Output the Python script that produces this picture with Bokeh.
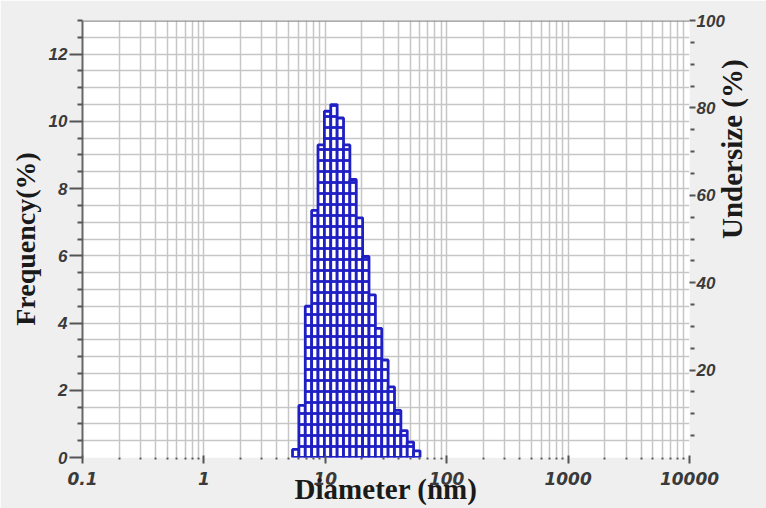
import math
from bokeh.plotting import figure
from bokeh.models import Range1d, LinearAxis, FixedTicker, CustomJSTickFormatter, Span
from bokeh.embed import file_html
from bokeh.resources import INLINE

# ---- data ----
diameter_edges = [5.37, 6.06, 6.84, 7.72, 8.71, 9.83, 11.09, 12.52, 14.13, 15.94,
                  17.99, 20.30, 22.91, 25.85, 29.17, 32.92, 37.15, 41.93, 47.32,
                  53.39, 60.26]
frequency = [0.24, 1.55, 4.5, 7.35, 9.3, 10.3, 10.5, 10.1, 9.3, 8.27,
             7.13, 5.98, 4.84, 3.84, 2.9, 2.1, 1.4, 0.8, 0.46, 0.2]
x_major_ticks = [0.1, 1, 10, 100, 1000, 10000]
freq_major_ticks = [0, 2, 4, 6, 8, 10, 12]
undersize_major_ticks = [20, 40, 60, 80, 100]
x_title = "Diameter (nm)"
y_title = "Frequency(%)"
y2_title = "Undersize (%)"

# ---- styling helpers ----
x_minor_ticks = [m * d for d in [0.1, 1, 10, 100, 1000] for m in range(2, 10)]
freq_minor_ticks = [i * 0.5 for i in range(0, 27) if (i * 0.5) % 2 != 0]
und_minor_ticks = [v for v in range(5, 100, 5) if v % 20 != 0]

GRID = "#c6c6c6"
TICK = "#555555"
LABEL = "#3a3a3a"
BLUE = "#1f1fc4"

p = figure(width=766, height=508, x_axis_type="log",
           x_range=Range1d(0.1, 10000), y_range=Range1d(0, 13),
           output_backend="svg", toolbar_location=None,
           min_border_left=82, min_border_right=76,
           min_border_top=20, min_border_bottom=51,
           background_fill_color="white", border_fill_color="#efefef",
           outline_line_color=None)

p.extra_y_ranges = {"und": Range1d(0, 100)}

# grids
xt = FixedTicker(ticks=x_major_ticks, minor_ticks=x_minor_ticks)
yt = FixedTicker(ticks=freq_major_ticks, minor_ticks=freq_minor_ticks)
p.xaxis.ticker = xt
p.yaxis.ticker = yt
p.xgrid.ticker = xt
p.ygrid.ticker = FixedTicker(ticks=freq_major_ticks[1:], minor_ticks=freq_minor_ticks)
for g in (p.xgrid, p.ygrid):
    g.grid_line_color = GRID
    g.grid_line_width = 1.5
    g.minor_grid_line_color = GRID
    g.minor_grid_line_width = 1.5

# histogram
p.quad(left=diameter_edges[:-1], right=diameter_edges[1:], bottom=0, top=frequency,
       fill_color="white", line_color=BLUE, line_width=2.8,
       hatch_pattern="horizontal_line", hatch_color=BLUE,
       hatch_scale=11, hatch_weight=2.8)

# top border
p.add_layout(Span(location=13, dimension="width", line_color="#909090", line_width=2.5))

fmt = CustomJSTickFormatter(code="return String(Number(tick.toPrecision(6)));")

# x axis
xa = p.xaxis[0]
xa.formatter = fmt
xa.axis_line_color = None
xa.major_tick_in = 2
xa.major_tick_out = 6
xa.major_tick_line_color = TICK
xa.major_tick_line_width = 2
xa.minor_tick_in = 0
xa.minor_tick_out = 2
xa.minor_tick_line_color = TICK
xa.minor_tick_line_width = 2
xa.major_label_standoff = 8
xa.major_label_text_font = "DejaVu Sans"
xa.axis_label = x_title
xa.axis_label_standoff = -15
xa.axis_label_text_font_size = "29px"

# left y axis
ya = p.yaxis[0]
ya.axis_line_color = "#666666"
ya.axis_line_width = 2
ya.major_tick_in = 0
ya.major_tick_out = 13
ya.minor_tick_in = 0
ya.minor_tick_out = 5
ya.major_tick_line_color = TICK
ya.minor_tick_line_color = TICK
ya.major_tick_line_width = 2
ya.minor_tick_line_width = 2
ya.major_label_standoff = 2
ya.major_label_text_font = "Liberation Sans"
ya.axis_label = y_title
ya.axis_label_standoff = 5
ya.axis_label_text_font_size = "28px"

# right y axis
ra = LinearAxis(y_range_name="und",
                ticker=FixedTicker(ticks=undersize_major_ticks, minor_ticks=und_minor_ticks))
ra.axis_line_color = None
ra.major_tick_in = 0
ra.major_tick_out = 6
ra.minor_tick_in = -1
ra.minor_tick_out = 5
ra.major_tick_line_color = TICK
ra.minor_tick_line_color = TICK
ra.major_tick_line_width = 2
ra.minor_tick_line_width = 2
ra.major_label_standoff = 1
ra.major_label_text_font = "Liberation Sans"
ra.axis_label = y2_title
ra.axis_label_standoff = 4
ra.axis_label_text_font_size = "29px"
ra.axis_label_orientation = math.pi / 2
p.add_layout(ra, "right")

for ax in (xa, ya, ra):
    ax.major_label_text_font_style = "bold italic"
    ax.major_label_text_font_size = "17px"
    ax.major_label_text_color = LABEL
    ax.axis_label_text_font = "Liberation Serif"
    ax.axis_label_text_font_style = "bold"
    ax.axis_label_text_color = "#1a1a1a"

open("out.html", "w").write(file_html(p, INLINE))
